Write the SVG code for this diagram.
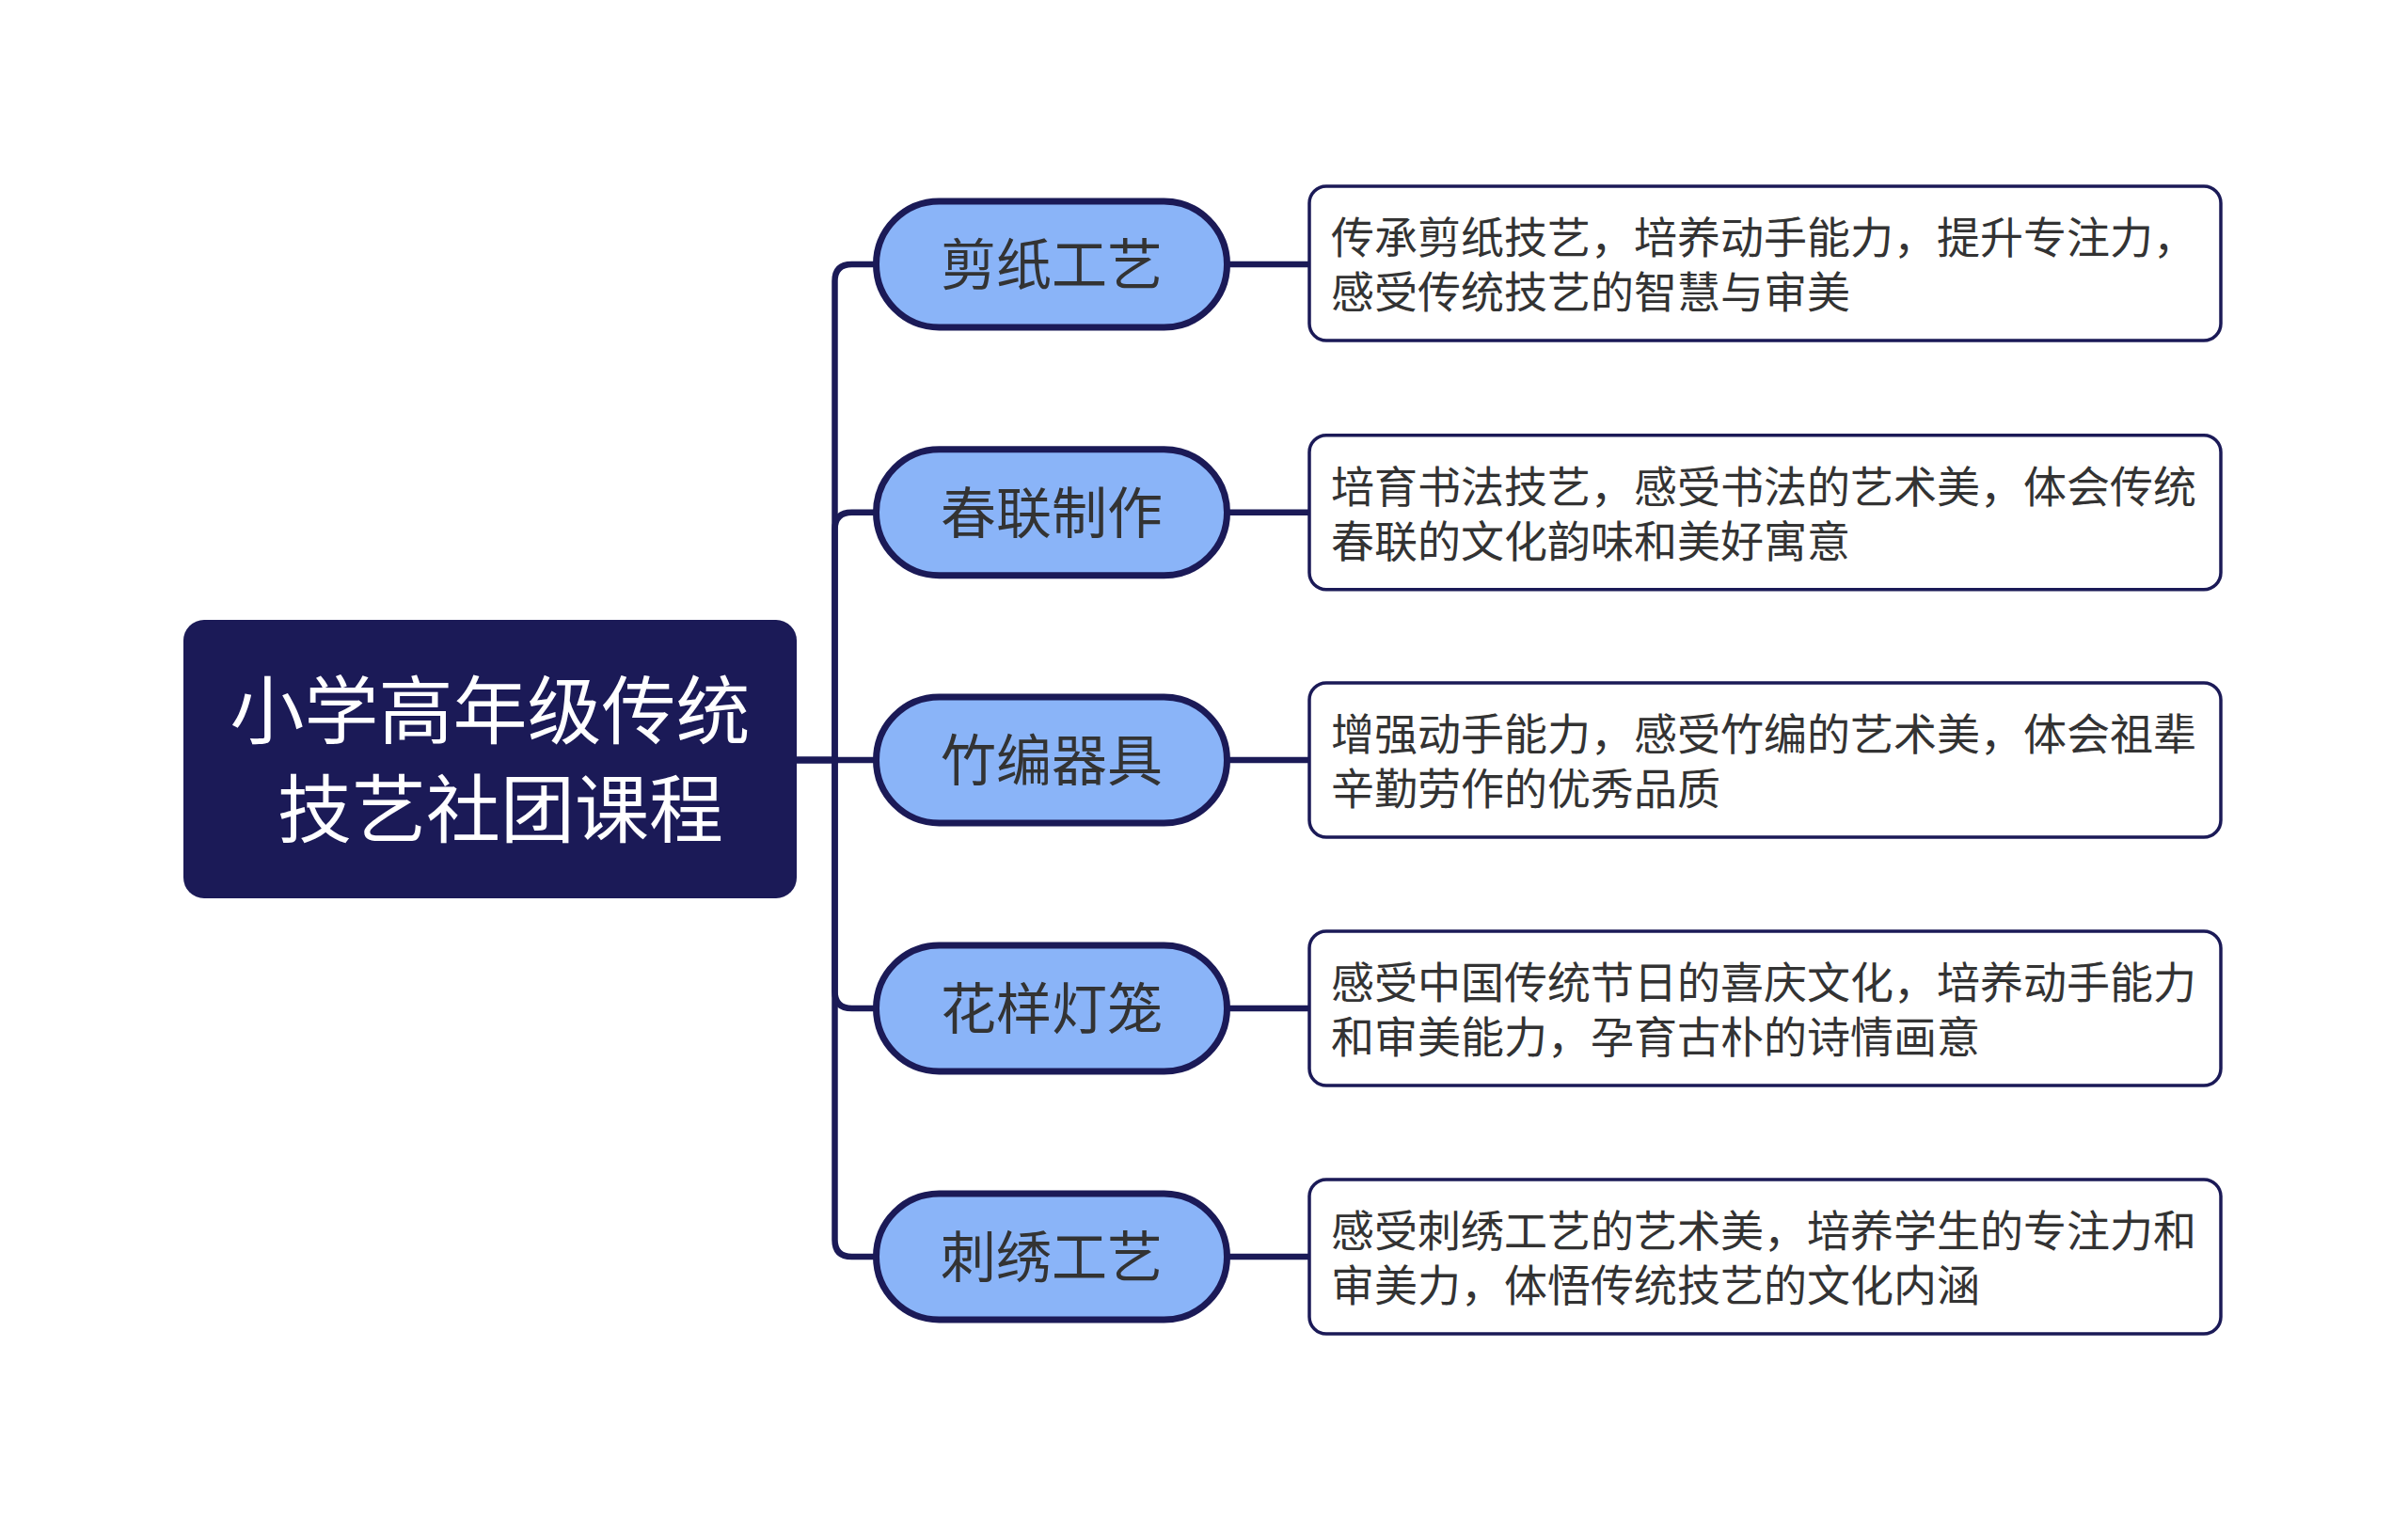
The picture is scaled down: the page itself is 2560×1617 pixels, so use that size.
<svg xmlns="http://www.w3.org/2000/svg" width="2560" height="1617" viewBox="0 0 2560 1617">
<style>
.root{fill:#1b1a57;}
.roott{fill:#ffffff;font-family:"Noto Sans CJK SC","Noto Sans",sans-serif;font-size:79px;text-anchor:middle;}
.pill{fill:#8ab4f8;stroke:#1b1a57;stroke-width:7;}
.pillt{fill:#333333;font-family:"Noto Sans CJK SC","Noto Sans",sans-serif;font-size:59px;text-anchor:middle;}
.box{fill:#ffffff;stroke:#1b1a57;stroke-width:3.5;}
.boxt{fill:#333333;font-family:"Noto Sans CJK SC","Noto Sans",sans-serif;font-size:46px;}
.con{fill:none;stroke:#1b1a57;stroke-width:6.5;}
</style>
<rect width="2560" height="1617" fill="#ffffff"/>
<g id="connectors">
<path class="con" d="M847 808 H887.5 V299 Q887.5 281 905.5 281 H932"/>
<path class="con" d="M847 808 H887.5 V562.75 Q887.5 544.75 905.5 544.75 H932"/>
<path class="con" d="M847 808 H932"/>
<path class="con" d="M847 808 H887.5 V1054 Q887.5 1072 905.5 1072 H932"/>
<path class="con" d="M847 808 H887.5 V1318 Q887.5 1336 905.5 1336 H932"/>
<path class="con" d="M1304 281 H1392"/>
<path class="con" d="M1304 544.75 H1392"/>
<path class="con" d="M1304 808 H1392"/>
<path class="con" d="M1304 1072 H1392"/>
<path class="con" d="M1304 1336 H1392"/>
</g>
<g id="root">
<rect class="root" x="195" y="659" width="652" height="296" rx="22"/>
<text class="roott" x="521" y="785">小学高年级传统</text>
<text class="roott" x="532" y="890">技艺社团课程</text>
</g>
<g id="n1">
<rect class="pill" x="931.5" y="214" width="373" height="134" rx="67"/>
<text class="pillt" x="1118" y="303">剪纸工艺</text>
</g>
<g id="n2">
<rect class="pill" x="931.5" y="477.75" width="373" height="134" rx="67"/>
<text class="pillt" x="1118" y="566.75">春联制作</text>
</g>
<g id="n3">
<rect class="pill" x="931.5" y="741" width="373" height="134" rx="67"/>
<text class="pillt" x="1118" y="830">竹编器具</text>
</g>
<g id="n4">
<rect class="pill" x="931.5" y="1005" width="373" height="134" rx="67"/>
<text class="pillt" x="1118" y="1094">花样灯笼</text>
</g>
<g id="n5">
<rect class="pill" x="931.5" y="1269" width="373" height="134" rx="67"/>
<text class="pillt" x="1118" y="1358">刺绣工艺</text>
</g>
<g id="d1">
<rect class="box" x="1392" y="198" width="969" height="164" rx="18"/>
<text class="boxt" x="1415" y="269">传承剪纸技艺，培养动手能力，提升专注力，</text>
<text class="boxt" x="1415" y="327">感受传统技艺的智慧与审美</text>
</g>
<g id="d2">
<rect class="box" x="1392" y="462.75" width="969" height="164" rx="18"/>
<text class="boxt" x="1415" y="533.75">培育书法技艺，感受书法的艺术美，体会传统</text>
<text class="boxt" x="1415" y="591.75">春联的文化韵味和美好寓意</text>
</g>
<g id="d3">
<rect class="box" x="1392" y="726" width="969" height="164" rx="18"/>
<text class="boxt" x="1415" y="797">增强动手能力，感受竹编的艺术美，体会祖辈</text>
<text class="boxt" x="1415" y="855">辛勤劳作的优秀品质</text>
</g>
<g id="d4">
<rect class="box" x="1392" y="990" width="969" height="164" rx="18"/>
<text class="boxt" x="1415" y="1061">感受中国传统节日的喜庆文化，培养动手能力</text>
<text class="boxt" x="1415" y="1119">和审美能力，孕育古朴的诗情画意</text>
</g>
<g id="d5">
<rect class="box" x="1392" y="1254" width="969" height="164" rx="18"/>
<text class="boxt" x="1415" y="1325">感受刺绣工艺的艺术美，培养学生的专注力和</text>
<text class="boxt" x="1415" y="1383">审美力，体悟传统技艺的文化内涵</text>
</g>
</svg>
